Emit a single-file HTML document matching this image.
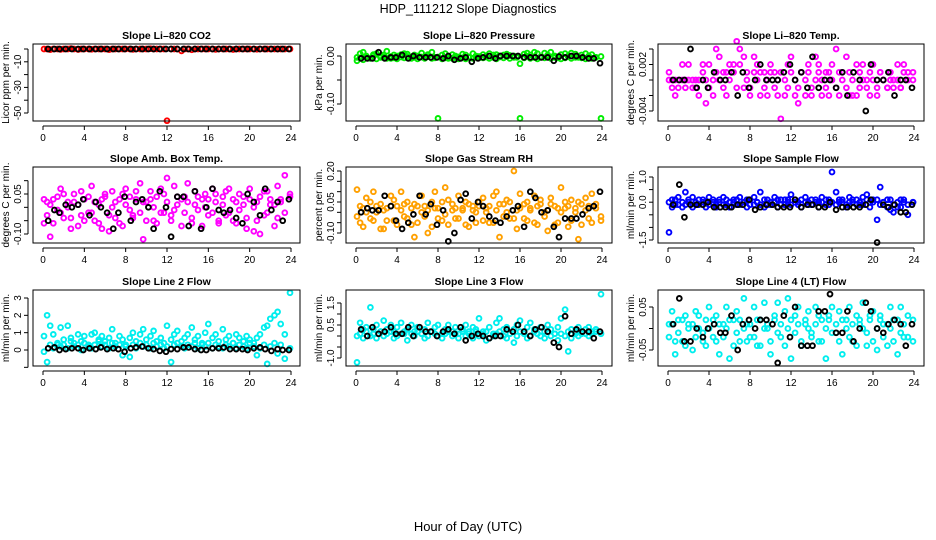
<!DOCTYPE html>
<html><head><meta charset="utf-8"><title>HDP_111212 Slope Diagnostics</title>
<style>
html,body{margin:0;padding:0;background:#fff;}
svg{display:block;font-family:"Liberation Sans",sans-serif;}
</style></head>
<body>
<svg id="chart" width="936" height="540" viewBox="0 0 936 540" xmlns="http://www.w3.org/2000/svg">
<rect x="0" y="0" width="936" height="540" fill="#fff"/>
<text x="468" y="13" text-anchor="middle" font-size="12.5">HDP_111212  Slope Diagnostics</text>
<text x="468" y="531" text-anchor="middle" font-size="13">Hour of Day (UTC)</text>
</svg>
<script>
// shared sample times (hours)
const hoursC = [0.1,0.4,0.7,1.0,1.4,1.7,2.0,2.4,2.7,3.0,3.4,3.7,
4.0,4.4,4.7,5.0,5.4,5.7,6.0,6.4,6.7,7.0,7.4,7.7,
8.0,8.4,8.7,9.0,9.4,9.7,10.0,10.4,10.7,11.0,11.4,11.7,
12.0,12.4,12.7,13.0,13.4,13.7,14.0,14.4,14.7,15.0,15.4,15.7,
16.0,16.4,16.7,17.0,17.4,17.7,18.0,18.4,18.7,19.0,19.4,19.7,
20.0,20.4,20.7,21.0,21.4,21.7,22.0,22.4,22.7,23.0,23.4,23.9];
const hoursK = [0.5,1.1,1.6,2.2,2.8,3.4,3.9,4.5,5.1,5.6,6.2,6.8,
7.3,7.9,8.5,9.0,9.6,10.2,10.7,11.3,11.9,12.4,13.0,13.6,
14.1,14.7,15.3,15.8,16.4,17.0,17.5,18.1,18.7,19.3,19.8,20.4,
21.0,21.5,22.1,22.7,23.2,23.8];
const xTicks = [0,4,8,12,16,20,24];

const co2A = [0,0,-0.5,0,0,-0.3,0,0,0.3,0,-0.4,0,
0,0,-0.2,0,0,0,0,-0.5,0,0,0,0,
0,0,-0.3,0,0,0,0,0.2,0,0,0,0,
-56,0,0,0,-1.5,0,0,-0.6,0,0,0,0,
0,0,-0.3,0,0,0,0,-0.4,0,0,0,0,
0,0,-0.2,0,0,0,0,0,0,0,0,0];
const co2K = [0,0,0,0,0,0,0,0,0,0,0,0,
0,0,0,0,0,0,0,0,0,0,0,0,
0,0,0,0,0,0,0,0,0,0,0,0,
0,0,0,0,0,0];

const presA = [-0.01,0.005,0.008,0,-0.005,0.003,0.005,0,0.002,0.01,-0.005,0.002,
0,0.003,0.005,0.004,-0.003,0.002,0,0.006,-0.005,0.003,0.008,-0.004,
-0.13,0.002,0.005,-0.005,0.003,0,-0.006,0.004,0.002,-0.003,0.005,0,
-0.004,0.003,0,0.005,0.002,0.003,0,0.002,0.004,0.001,0,-0.003,
-0.13,0.004,0.006,0.002,0.008,0.005,-0.003,0.006,0.002,0.008,0,-0.004,
0.003,0.005,0,0.006,0.004,-0.003,0.002,0.005,0,0.003,-0.003,-0.13];
const presB = [-0.003,-0.004,-0.008,-0.002,-0.005,0,-0.006,-0.003,-0.002,-0.005,-0.001,-0.004,
-0.006,-0.002,-0.004,-0.001,-0.005,-0.003,-0.006,-0.002,-0.004,-0.001,-0.005,-0.003,
-0.002,-0.006,-0.004,-0.001,-0.005,-0.003,-0.002,-0.004,-0.006,-0.002,-0.005,-0.003,
-0.001,-0.004,-0.002,-0.005,-0.003,-0.006,-0.002,-0.004,-0.001,-0.005,-0.003,-0.002,
-0.016,-0.004,-0.001,-0.005,-0.003,-0.006,-0.002,-0.004,-0.001,-0.005,-0.003,-0.002,
-0.006,-0.004,-0.001,-0.005,-0.003,-0.002,-0.004,-0.006,-0.002,-0.005,-0.003,-0.001];
const presK = [-0.005,-0.005,-0.005,0.008,-0.005,-0.003,-0.003,0.002,-0.005,0,-0.003,-0.003,
-0.003,-0.003,-0.005,0,-0.008,-0.005,-0.003,-0.012,-0.005,-0.003,0,-0.005,
0,0,0,0,-0.003,-0.003,-0.003,-0.003,-0.003,-0.01,-0.001,-0.003,
0,0,-0.003,-0.005,-0.005,-0.015];

const tempA = [0.001,0,0,-0.001,0,0,0,-0.001,0,0,0.001,0,
-0.001,0,0.001,0,-0.001,0.001,0,0.001,-0.001,0.002,0.003,0,
-0.001,0.001,0,0.001,-0.001,0,0.001,-0.001,0,0.001,0,-0.001,
0.001,0,-0.001,0.001,0,0.001,-0.001,0,0.001,0,-0.001,0.001,
0,-0.001,0.001,0,-0.001,0.001,0,-0.002,0.001,0,-0.001,0.001,
0,-0.001,0.001,0,-0.001,0.001,0,0,-0.001,0.001,0,0];
const tempB = [0,-0.001,-0.002,0,0.002,-0.001,0.002,0,-0.001,-0.002,0.002,-0.003,
0.002,-0.002,0.004,0.003,0.001,-0.002,0.002,0.002,0.005,0.004,-0.001,0.001,
-0.002,0.003,0.002,-0.002,0.001,-0.002,0.002,0.001,-0.002,-0.005,-0.002,0.002,
0.003,-0.002,-0.003,0.001,-0.002,0.002,-0.002,0.003,0.002,-0.002,0.001,-0.002,
0.002,0.004,-0.002,0.001,0.003,-0.002,-0.002,0.002,-0.001,0.002,0,-0.002,
0.002,-0.002,0.001,0,-0.001,0,-0.001,0.002,-0.001,0.002,0.001,0.001];
const tempK = [0,0,0,0.004,-0.001,0,-0.001,0.001,0,0,0.001,-0.002,
0.001,-0.001,0,0.002,0,0,0,0.001,0.002,0,0.001,-0.001,
0.003,-0.001,0,0,-0.001,0.001,-0.002,0.001,0,-0.004,0.002,0,
0,0.001,-0.002,0,0,-0.001];

const ambA = [0.03,-0.03,0.01,-0.06,0.04,-0.02,0.05,0,-0.04,0.02,-0.07,0.06,
0.03,-0.02,0.08,-0.05,0.01,-0.08,0.04,-0.03,0.06,0.02,-0.06,0.05,
0.07,-0.01,-0.04,0.03,0.09,-0.12,0.02,0.06,-0.05,0.04,-0.02,0.05,
0.11,-0.03,0.08,0.01,-0.07,0.04,0.02,-0.04,0.06,-0.01,0.03,0.05,
-0.03,0.07,0.02,-0.05,0.04,0.06,-0.02,0.03,-0.06,0.05,0.01,-0.04,
0.07,-0.09,0.02,0.04,-0.03,0.06,0.01,-0.07,0.08,0.03,-0.02,0.05];
const ambB = [-0.06,0.02,-0.11,0.03,-0.01,0.07,-0.04,0.02,-0.08,0.05,0.01,-0.03,
-0.05,0.04,-0.02,0.02,-0.06,0.03,0.05,-0.09,0,-0.04,0.03,-0.07,
0.01,0.04,-0.03,0.06,-0.02,0.02,-0.05,0.03,0,-0.06,0.07,-0.02,
0.02,-0.05,-0.01,0.04,0.03,-0.02,0.09,-0.06,0.01,0.04,-0.07,0,
0.03,-0.02,0.05,-0.06,0.01,-0.03,0.07,-0.05,0.02,-0.01,0.04,-0.08,
0.03,0,-0.05,-0.1,0.06,-0.02,0.03,0.01,-0.04,0.02,0.12,0.04];
const ambK = [-0.05,-0.01,-0.02,0.01,0,0.01,0.03,-0.03,0.02,0,-0.02,-0.08,
-0.02,0.04,-0.05,0.02,0.03,0,-0.08,0.06,0,-0.11,0.04,0.04,
-0.07,0.06,-0.08,0,0.07,-0.01,-0.02,-0.01,-0.04,-0.06,0.05,0.02,
-0.03,0.07,-0.01,0.02,-0.05,0.03];

const rhA = [0.11,-0.05,0.02,0.07,-0.03,0.1,0,0.04,-0.08,0.02,0.08,-0.04,
0.03,0.1,-0.02,0.05,-0.06,-0.12,0.03,0.08,-0.02,-0.1,0.05,0.1,
0.02,-0.04,0.12,0.06,0.01,-0.03,0.08,0.02,-0.06,0.04,0.01,-0.05,
0.03,0.07,0,-0.05,0.08,0.1,-0.12,0.04,0.06,-0.03,0.2,0.01,
0.09,-0.03,0.05,0.02,0.08,-0.06,0.04,0,-0.09,0.07,0.03,-0.05,
0.12,0.02,-0.07,0.06,0,-0.13,0.04,0.07,-0.03,0.09,0.02,-0.04];
const rhB = [-0.02,0.03,-0.07,0,0.05,-0.04,0.03,-0.08,0.01,-0.04,0.03,0.06,
-0.06,0.01,0.04,-0.03,0.02,0.04,-0.05,0,0.03,0.01,-0.07,0.02,
-0.03,0.05,-0.01,-0.06,0.04,0.02,-0.03,0.01,0.05,-0.07,0.03,0,
0.05,-0.04,0.02,0.03,-0.05,0.01,0.04,-0.02,0,0.05,-0.03,-0.08,
0.02,0.04,-0.04,0.01,-0.05,0.03,0.06,-0.02,0.01,0.04,-0.06,0.02,
0,0.05,0.03,-0.04,0.02,0.05,-0.06,0.01,0.03,-0.05,0.04,-0.02];
const rhK = [0,0.02,0.01,0.01,0.08,0.03,-0.04,-0.08,-0.05,-0.01,0.08,-0.01,
0.04,-0.06,0.01,-0.14,-0.1,0.06,0.09,-0.03,0.05,0.03,-0.02,-0.04,
-0.05,-0.02,0.01,0.03,-0.07,0.1,0.07,0,0.01,-0.07,-0.12,-0.03,
-0.03,-0.03,-0.01,0.02,0.03,0.1];

const sfA = [-1.2,0.1,-0.1,0.2,-0.2,0.4,0,0.2,-0.1,0.1,0,-0.2,
0.2,0,-0.1,0.1,0.2,-0.1,0,0.1,-0.1,0.2,0,0.1,
-0.1,0.2,0,0.4,0.1,-0.1,0,0.2,0.1,-0.1,0.1,0,
0.3,0,-0.1,0.1,0.2,0,-0.1,0.1,0,0.2,-0.1,0.1,
1.2,0.4,0,0.1,-0.1,0.2,0,0.1,-0.1,0.2,0.3,0,
0.1,-0.7,0.6,0,0.1,-0.3,-0.4,-0.2,0.1,0,-0.5,0];
const sfB = [0,-0.2,0.1,-0.1,0,-0.1,0.1,-0.2,0,-0.1,0.1,0,
-0.1,0.1,-0.2,0,-0.1,0.1,-0.2,0,0.1,-0.1,0,-0.2,
0.1,-0.1,0,-0.1,-0.2,0.1,-0.1,0,-0.2,0.1,-0.1,0.1,
-0.1,0.1,0,-0.2,0,-0.1,0.1,0,-0.2,0,0.1,-0.1,
0,-0.1,0.1,0,-0.2,0,0.1,-0.1,0,-0.1,0.1,-0.2,
0,0.1,-0.1,0,-0.2,0.1,-0.1,0,-0.2,0.1,-0.1,0];
const sfK = [-0.1,0.7,-0.6,-0.1,-0.1,-0.1,0,-0.2,-0.2,-0.2,-0.2,-0.1,
-0.1,0.1,-0.3,-0.2,-0.1,-0.1,-0.2,-0.2,-0.2,0.1,-0.2,-0.1,
-0.1,-0.2,-0.2,0,-0.3,-0.2,-0.2,-0.2,-0.2,-0.1,0.1,-1.6,
-0.1,-0.2,-0.1,-0.4,-0.4,-0.1];

const l2A = [0.8,2.0,1.4,0.9,0.3,1.3,0.6,1.4,0.7,0.4,0.9,0.5,
0.8,0.3,0.9,1.0,0.6,0.8,0.5,0.7,1.2,0.4,0.8,0.6,
0.3,0.7,1.0,0.5,0.9,1.2,0.6,0.8,1.1,0.5,0.7,0.4,
1.4,0.6,0.9,1.1,0.5,0.7,0.9,1.3,0.6,0.8,0.4,1.0,
1.5,0.7,0.9,0.5,1.2,0.6,0.8,0.4,0.9,0.7,0.5,0.8,
0.6,0.4,0.7,0.9,1.3,1.4,1.8,2.0,2.2,1.5,0.9,3.3];
const l2B = [-0.1,-0.7,0.3,0.1,0.4,0.2,0.3,0.1,0.5,0.2,0.3,0,
0.4,0.2,0.1,0.3,0.5,0.2,0.3,0.1,0.4,0.2,0.3,-0.3,
0.2,-0.4,0.3,0.1,0.4,0.2,0.3,0.1,0.4,0.2,0.3,0.1,
0.2,-0.7,0.3,0.4,0.2,0.1,0.3,0.2,0.4,0.1,0.3,0.2,
0.4,0.1,0.3,0.2,0.1,0.3,0.2,0.4,0.1,0.3,0.2,0.1,
0.4,0.2,-0.3,0.1,0.3,-0.8,0.2,0.4,-0.2,0.3,-0.5,0.1];
const l2K = [0.1,0.15,0,0.05,0.1,0.1,0,0.1,0.05,0.15,0.05,0.1,
0.05,-0.1,0.1,0.15,0.2,0.1,0.05,-0.05,-0.1,0.05,0.05,0.15,
0.15,0.05,0,0,0.1,0.1,0.15,0.05,0.05,0.05,0,0.1,
0.15,0.05,-0.05,0.05,0,0];

const l3A = [-1.2,0.6,0.3,0.4,1.3,0.3,0.5,0.2,0.7,0.3,0.5,0.2,
0.4,0.6,0.1,0.3,0.5,0.2,0.4,0.1,0.3,0.6,0.2,0.4,
0.5,0.1,0.3,0.5,0.2,0.4,0.1,0.3,0.5,0.2,0.4,0.3,
0.8,0.2,-0.2,0.4,0.1,0.6,0.8,0.3,0.4,0.1,0.3,0.5,
0.7,0.2,0.4,0.6,0.3,0.1,0.4,0.2,0.5,0.3,0.1,0.4,
0.8,1.2,-0.7,0.3,0.2,0.4,0.1,0.3,0.4,0.2,0.3,1.9];
const l3B = [0,0.1,-0.1,0.2,0,0.1,-0.1,0.2,0,0.1,0.2,-0.1,
0,0.1,0.2,-0.2,0.1,0,0.2,0.1,-0.1,0,0.2,0.1,
0,-0.1,0.1,0.2,0,0.1,-0.1,0.2,0,0.1,-0.1,0.2,
0,0.1,0.2,-0.1,0,0.1,0.2,0,-0.1,0.1,-0.3,0,
0.2,0.1,-0.1,0,0.2,0.1,0,-0.1,0.2,0,0.1,-0.2,
0.1,0,0.2,-0.1,0.1,0,0.2,0.1,0,0.1,0.2,0.1];
const l3K = [0.3,0,0.4,0.1,0.2,0.4,0.1,0.1,0.4,0,0.4,0.2,
0.2,0,0.2,0.3,0.1,0.4,-0.2,0,0.1,0,-0.1,0,
0,0.3,0.2,0.5,0.2,0,0.3,0.4,0.2,-0.3,-0.5,0.9,
0.1,0.3,0.2,0.2,-0.1,0.2];

const l4A = [0.01,0.04,-0.06,0.02,-0.03,0.03,0.01,-0.05,0.04,0,-0.03,0.02,
0.05,-0.02,0.03,-0.06,0.01,0.05,-0.07,0.02,0.04,-0.03,0.07,0.01,
-0.02,0.05,-0.04,0.02,0.06,0,-0.06,0.03,0.06,-0.02,0.04,0.07,
-0.07,0.03,0.05,-0.04,0.01,0.04,-0.01,0.05,-0.03,0.02,-0.07,0.03,
0.05,-0.01,0.04,-0.06,0.02,0.05,-0.03,0.03,0.01,0.06,-0.04,0.02,
0.04,-0.05,0.03,0.01,-0.04,0.05,0.02,-0.06,0.05,-0.02,0.03,-0.03];
const l4B = [-0.02,0.01,-0.03,-0.01,0.02,-0.04,0,0.01,-0.02,0.03,-0.01,-0.04,
0,0.02,-0.03,0.01,-0.02,0,0.02,-0.04,-0.01,0.02,0,-0.03,
0.01,-0.02,0.02,-0.04,0,0.01,-0.03,0.02,-0.01,0.01,-0.04,0,
0.02,-0.01,0.01,-0.03,0.02,0,-0.02,0.01,0.03,-0.03,0,0.02,
-0.01,0.01,-0.03,0.02,0,-0.02,0.01,-0.04,0.02,0,-0.01,0.03,
-0.03,0,0.02,-0.02,0.01,0,-0.03,0.02,-0.01,0.01,-0.02,0.02];
const l4K = [0.01,0.07,-0.03,-0.03,0,-0.02,0,0.01,-0.01,-0.01,0.03,-0.05,
0.01,0.02,0,0.02,0.02,0.01,-0.08,0.03,-0.02,0.05,-0.04,-0.04,
-0.04,0.04,0.04,0.08,-0.01,-0.01,0.04,-0.03,0,0.06,0.04,0,
-0.01,0.01,0.02,0.01,-0.04,0.01];

const panels = [
 {name:'co2',title:'Slope Li\u2013820 CO2',ytitle:'Licor ppm per min.',color:'#ff0000',cols:[co2A],k:co2K,
  box:[33,300,44,121],x0:43,x24:291,ya:[0,49],yb:[-50,113],yt:[0,-10,-20,-30,-40,-50],yl:['-10','-30','-50'],ylv:[-10,-30,-50]},
 {name:'pressure',title:'Slope Li\u2013820 Pressure',ytitle:'kPa per min.',color:'#00ee00',cols:[presA,presB],k:presK,
  box:[346,612,44,121],x0:356,x24:602,ya:[0,56],yb:[-0.1,104],yt:[0,-0.05,-0.1],yl:['0.00','-0.10'],ylv:[0,-0.1]},
 {name:'temp',title:'Slope Li\u2013820 Temp.',ytitle:'degrees C per min.',color:'#ff00ff',cols:[tempA,tempB],k:tempK,
  box:[658,924,44,121],x0:668,x24:914,ya:[0,80],yb:[-0.004,111],yt:[0.004,0.002,0,-0.002,-0.004],yl:['0.002','-0.004'],ylv:[0.002,-0.004]},
 {name:'amb-box-temp',title:'Slope Amb. Box Temp.',ytitle:'degrees C per min.',color:'#ff00ff',cols:[ambA,ambB],k:ambK,
  box:[33,300,167,243],x0:43,x24:291,ya:[0.05,194],yb:[-0.1,234],yt:[0.1,0.05,0,-0.05,-0.1],yl:['0.05','-0.10'],ylv:[0.05,-0.1]},
 {name:'gas-stream-rh',title:'Slope Gas Stream RH',ytitle:'percent per min.',color:'#ffa000',cols:[rhA,rhB],k:rhK,
  box:[346,612,167,243],x0:356,x24:602,ya:[0.2,171],yb:[-0.1,233],yt:[0.2,0.15,0.1,0.05,0,-0.05,-0.1],yl:['0.20','0.05','-0.10'],ylv:[0.2,0.05,-0.1]},
 {name:'sample-flow',title:'Slope Sample Flow',ytitle:'ml/min per min.',color:'#0000ff',cols:[sfA,sfB],k:sfK,
  box:[658,924,167,243],x0:668,x24:914,ya:[1,177],yb:[-1.5,240],yt:[1,0.5,0,-0.5,-1,-1.5],yl:['1.0','0.0','-1.5'],ylv:[1,0,-1.5]},
 {name:'line2-flow',title:'Slope Line 2 Flow',ytitle:'ml/min per min.',color:'#00eeee',cols:[l2A,l2B],k:l2K,
  box:[33,300,290,366],x0:43,x24:291,ya:[3,298],yb:[0,350],yt:[3,2,1,0,-1],yl:['3','2','1','0'],ylv:[3,2,1,0]},
 {name:'line3-flow',title:'Slope Line 3 Flow',ytitle:'ml/min per min.',color:'#00eeee',cols:[l3A,l3B],k:l3K,
  box:[346,612,290,366],x0:356,x24:602,ya:[1.5,303],yb:[-1,358],yt:[1.5,1,0.5,0,-0.5,-1],yl:['1.5','0.5','-1.0'],ylv:[1.5,0.5,-1]},
 {name:'line4-flow',title:'Slope Line 4 (LT) Flow',ytitle:'ml/min per min.',color:'#00eeee',cols:[l4A,l4B],k:l4K,
  box:[658,924,290,366],x0:668,x24:914,ya:[0.05,307],yb:[-0.05,350],yt:[0.05,0,-0.05],yl:['0.05','-0.05'],ylv:[0.05,-0.05]}
];

const NS='http://www.w3.org/2000/svg';
const svg=document.getElementById('chart');
function mk(tag,attrs,parent){const e=document.createElementNS(NS,tag);for(const k in attrs)e.setAttribute(k,attrs[k]);(parent||svg).appendChild(e);return e;}

panels.forEach(p=>{
  const g=mk('g',{});
  
  
  const [L,R,T,B]=p.box;
  const xs=h=>p.x0+(h/24)*(p.x24-p.x0);
  const ys=v=>p.ya[1]+(v-p.ya[0])*(p.yb[1]-p.ya[1])/(p.yb[0]-p.ya[0]);
  const t=mk('text',{x:(L+R)/2,y:T-5,'text-anchor':'middle','font-size':'10.5','font-weight':'bold'},g);
  t.textContent=p.title;
  
  
  const yt=mk('text',{x:0,y:0,'text-anchor':'middle','font-size':'10',transform:`translate(${L-24},${(T+B)/2}) rotate(-90)`},g);
  yt.textContent=p.ytitle;
  
  
  const pts=mk('g',{fill:'none','stroke-width':'1.9'},g);
  
  
  p.cols.forEach(arr=>{
    arr.forEach((v,i)=>{
      const c=mk('circle',{cx:xs(hoursC[i]).toFixed(1),cy:ys(v).toFixed(1),r:2.4,stroke:p.color},pts);
      
      
    });
  });
  p.k.forEach((v,i)=>{
    const c=mk('circle',{cx:xs(hoursK[i]).toFixed(1),cy:ys(v).toFixed(1),r:2.4,stroke:'#000'},pts);
    
    
  });
  const bx=mk('rect',{x:L,y:T,width:R-L,height:B-T,fill:'none',stroke:'#000','stroke-width':'1'},g);
  
  
  const xa=mk('g',{},g);
  
  
  mk('line',{x1:xs(0),x2:xs(24),y1:B+5,y2:B+5,stroke:'#000'},xa);
  xTicks.forEach(h=>{
    mk('line',{x1:xs(h),x2:xs(h),y1:B+5,y2:B+9,stroke:'#000'},xa);
    const tl=mk('text',{x:xs(h),y:B+20,'text-anchor':'middle','font-size':'10'},xa);
    tl.textContent=h;
    
    
  });
  const ya=mk('g',{},g);
  
  
  mk('line',{x1:L-5,x2:L-5,y1:ys(p.yt[0]),y2:ys(p.yt[p.yt.length-1]),stroke:'#000'},ya);
  p.yt.forEach(v=>mk('line',{x1:L-9,x2:L-5,y1:ys(v),y2:ys(v),stroke:'#000'},ya));
  p.yl.forEach((s,i)=>{
    const tl=mk('text',{x:0,y:0,'text-anchor':'middle','font-size':'10',transform:`translate(${L-12},${ys(p.ylv[i])}) rotate(-90)`},ya);
    tl.textContent=s;
    
    
  });
});
</script>
</body></html>
